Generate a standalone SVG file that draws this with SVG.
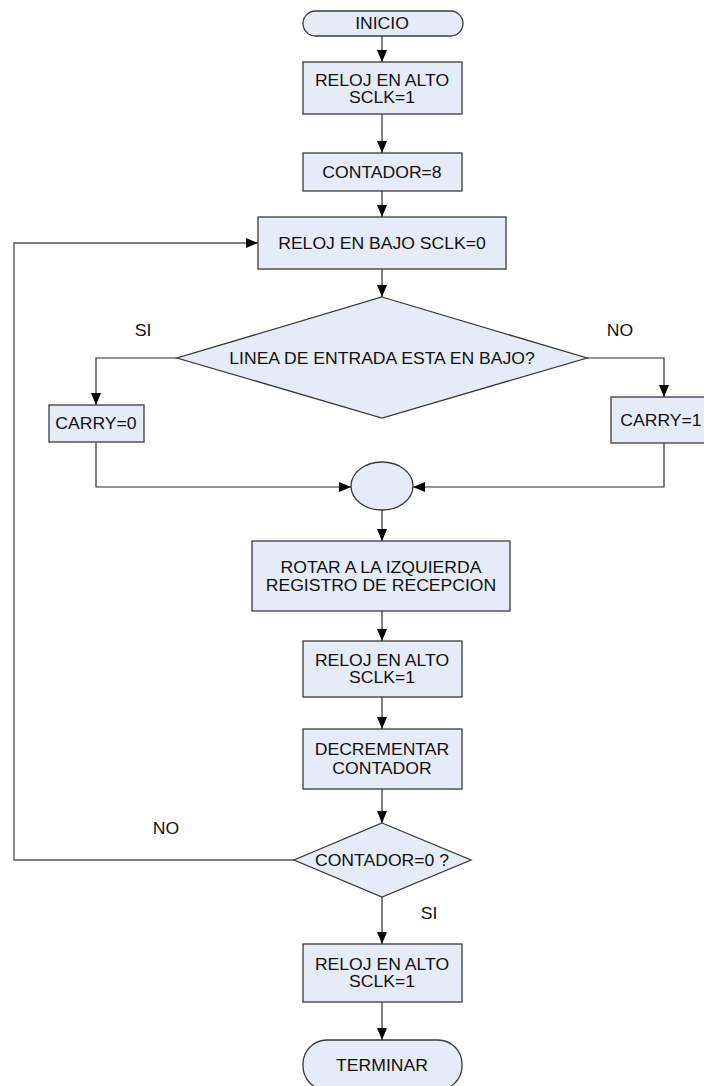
<svg xmlns="http://www.w3.org/2000/svg" width="704" height="1086" viewBox="0 0 704 1086">
  <style>
    .shape { fill: #e6ecf7; stroke: #3a3a3a; stroke-width: 1.3; }
    .link { fill: none; stroke: #2a2a2a; stroke-width: 1.2; }
    .loop { fill: none; stroke: #555555; stroke-width: 1.4; }
    text { font-family: "Liberation Sans", Arial, sans-serif; font-size: 16px; fill: #111111; text-anchor: middle;
           transform-box: fill-box; transform-origin: center; transform: scaleX(1.1); }
  </style>
  <defs>
    <marker id="arrow" markerUnits="userSpaceOnUse" markerWidth="12" markerHeight="12" viewBox="0 0 12 12" refX="12" refY="6" orient="auto">
      <path d="M0,1 L12,6 L0,11 Z" fill="#000000"/>
    </marker>
  </defs>

  <rect width="704" height="1086" fill="#ffffff"/>

  <!-- connectors -->
  <g id="connectors">
    <line class="link" x1="382" y1="36" x2="382" y2="62" marker-end="url(#arrow)"/>
    <line class="link" x1="382" y1="114" x2="382" y2="153" marker-end="url(#arrow)"/>
    <line class="link" x1="382" y1="191" x2="382" y2="217" marker-end="url(#arrow)"/>
    <line class="link" x1="382" y1="269" x2="382" y2="297" marker-end="url(#arrow)"/>
    <polyline class="link" points="177,358 96,358 96,405" marker-end="url(#arrow)"/>
    <polyline class="link" points="587,358 664,358 664,397" marker-end="url(#arrow)"/>
    <polyline class="link" points="96,442 96,487 351,487" marker-end="url(#arrow)"/>
    <polyline class="link" points="664,443 664,487 413,487" marker-end="url(#arrow)"/>
    <line class="link" x1="382" y1="510" x2="382" y2="541" marker-end="url(#arrow)"/>
    <line class="link" x1="382" y1="611" x2="382" y2="641" marker-end="url(#arrow)"/>
    <line class="link" x1="382" y1="697" x2="382" y2="729" marker-end="url(#arrow)"/>
    <line class="link" x1="382" y1="789" x2="382" y2="823" marker-end="url(#arrow)"/>
    <polyline class="loop" points="294,860 14,860 14,243 258,243" marker-end="url(#arrow)"/>
    <line class="link" x1="382" y1="897" x2="382" y2="944" marker-end="url(#arrow)"/>
    <line class="link" x1="382" y1="1002" x2="382" y2="1040" marker-end="url(#arrow)"/>
    <text x="143" y="336">SI</text>
    <text x="620" y="336">NO</text>
    <text x="166" y="834">NO</text>
    <text x="429" y="919">SI</text>
  </g>

  <g id="inicio">
    <rect class="shape" x="303" y="11" width="160" height="25" rx="12.5"/>
    <text x="382" y="29">INICIO</text>
  </g>
  <g id="reloj-alto-1">
    <rect class="shape" x="303" y="62" width="159" height="52"/>
    <text x="382" y="86">RELOJ EN ALTO</text>
    <text x="382" y="103">SCLK=1</text>
  </g>
  <g id="contador-8">
    <rect class="shape" x="303" y="153" width="159" height="38"/>
    <text x="382" y="178">CONTADOR=8</text>
  </g>
  <g id="reloj-bajo">
    <rect class="shape" x="258" y="217" width="248" height="52"/>
    <text x="382" y="249">RELOJ EN BAJO SCLK=0</text>
  </g>
  <g id="linea-bajo">
    <polygon class="shape" points="382,297 587,358 382,418 177,358"/>
    <text x="382" y="364">LINEA DE ENTRADA ESTA EN BAJO?</text>
  </g>
  <g id="carry-0">
    <rect class="shape" x="49" y="405" width="95" height="37"/>
    <text x="96" y="429">CARRY=0</text>
  </g>
  <g id="carry-1">
    <rect class="shape" x="611" y="397" width="110" height="46"/>
    <text x="661" y="426">CARRY=1</text>
  </g>
  <g id="union">
    <ellipse class="shape" cx="382" cy="486" rx="31" ry="24"/>
  </g>
  <g id="rotar">
    <rect class="shape" x="252" y="541" width="258" height="70"/>
    <text x="381" y="573">ROTAR A LA IZQUIERDA</text>
    <text x="381" y="591">REGISTRO DE RECEPCION</text>
  </g>
  <g id="reloj-alto-2">
    <rect class="shape" x="303" y="641" width="159" height="56"/>
    <text x="382" y="666">RELOJ EN ALTO</text>
    <text x="382" y="683">SCLK=1</text>
  </g>
  <g id="decrementar">
    <rect class="shape" x="303" y="729" width="159" height="60"/>
    <text x="382" y="755">DECREMENTAR</text>
    <text x="382" y="774">CONTADOR</text>
  </g>
  <g id="contador-0">
    <polygon class="shape" points="382,823 471,860 382,897 294,860"/>
    <text x="382" y="866">CONTADOR=0 ?</text>
  </g>
  <g id="reloj-alto-3">
    <rect class="shape" x="303" y="944" width="159" height="58"/>
    <text x="382" y="970">RELOJ EN ALTO</text>
    <text x="382" y="987">SCLK=1</text>
  </g>
  <g id="terminar">
    <rect class="shape" x="303" y="1040" width="159" height="50" rx="24"/>
    <text x="382" y="1071">TERMINAR</text>
  </g>
</svg>
